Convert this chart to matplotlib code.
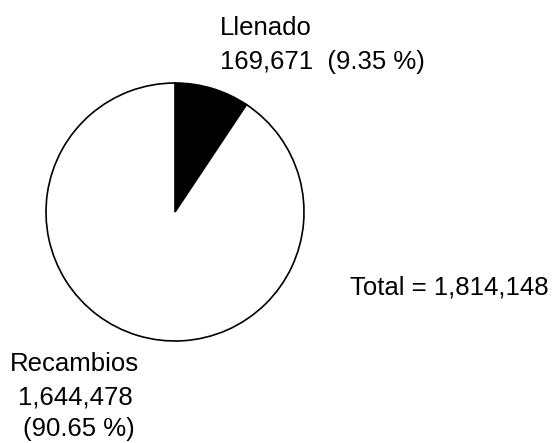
import matplotlib
matplotlib.use("Agg")
import matplotlib.pyplot as plt

# distribution of units: filling vs replacements
labels = ["Llenado", "Recambios"]
values = [169671, 1644478]
total = 1814148
colors = ["black", "white"]

plt.rcParams['font.family'] = ['Liberation Sans', 'DejaVu Sans']

W, H = 557, 443
fig = plt.figure(figsize=(W / 100, H / 100), dpi=100)
ax = fig.add_axes([0, 0, 1, 1])
ax.set_xlim(0, W)
ax.set_ylim(0, H)
ax.set_aspect('equal')
ax.axis('off')

ax.pie(values, colors=colors, startangle=90, counterclock=False,
       center=(175, H - 212), radius=129,
       wedgeprops=dict(edgecolor='black', linewidth=1.2))
ax.set_xlim(0, W)
ax.set_ylim(0, H)

pct = [v / total * 100 for v in values]
fs = 18.5

# label for the small slice, left aligned above the pie
ax.text(220, H - 35, labels[0], fontsize=fs, ha='left', va='baseline')
ax.text(220, H - 69, f"{values[0]:,}  ({pct[0]:.2f} %)", fontsize=fs,
        ha='left', va='baseline')

# label for the large slice, centred below left of the pie
ax.text(74, H - 371, labels[1], fontsize=fs, ha='center', va='baseline')
ax.text(75, H - 404, f"{values[1]:,}", fontsize=fs, ha='center', va='baseline')
ax.text(79, H - 436, f"({pct[1]:.2f} %)", fontsize=fs, ha='center', va='baseline')

ax.text(350, H - 295, f"Total = {total:,}", fontsize=fs, ha='left', va='baseline')

fig.savefig("out.png", dpi=100, facecolor='white')
